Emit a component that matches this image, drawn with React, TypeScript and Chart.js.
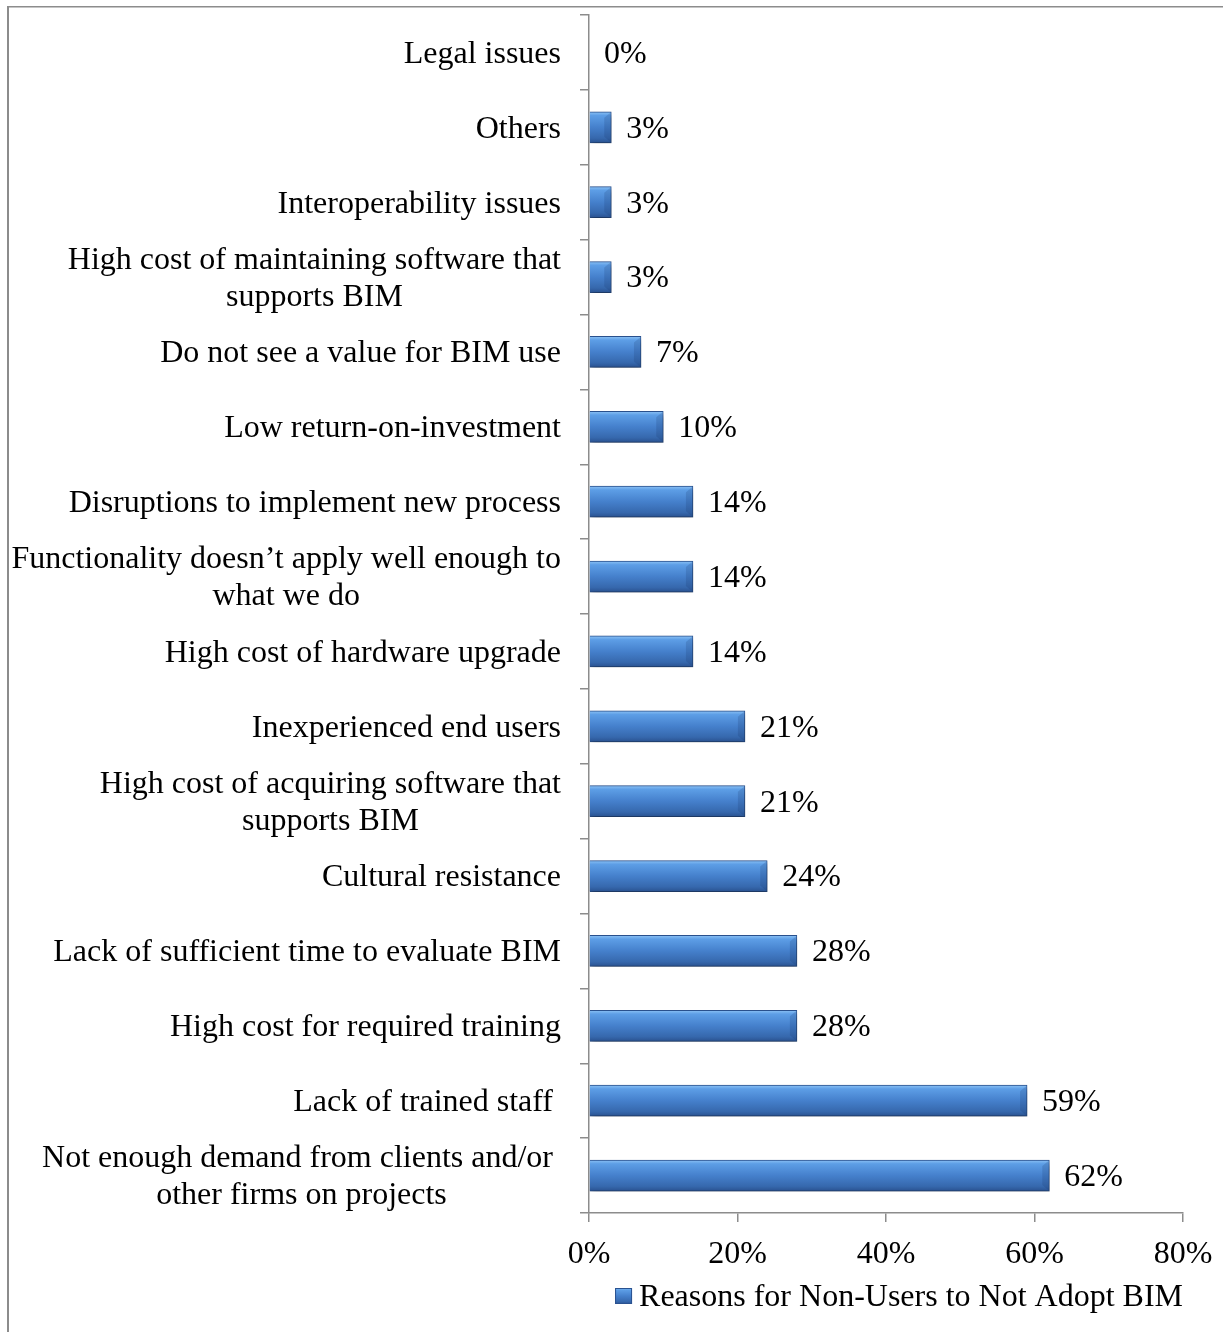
import { useEffect, useRef } from 'react';
import { Chart, registerables } from 'chart.js';

Chart.register(...registerables);

// ---- Data ----
const categories: string[][] = [
  ['Legal issues'],
  ['Others'],
  ['Interoperability issues'],
  ['High cost of maintaining software that', 'supports BIM'],
  ['Do not see a value for BIM use'],
  ['Low return-on-investment'],
  ['Disruptions to implement new process'],
  ['Functionality doesn\u2019t apply well enough to', 'what we do'],
  ['High cost of hardware upgrade'],
  ['Inexperienced end users'],
  ['High cost of acquiring software that', 'supports BIM'],
  ['Cultural resistance'],
  ['Lack of sufficient time to evaluate BIM'],
  ['High cost for required training'],
  ['Lack of trained staff '],
  ['Not enough demand from clients and/or ', 'other firms on projects'],
];
const values: number[] = [0, 3, 3, 3, 7, 10, 14, 14, 14, 21, 21, 24, 28, 28, 59, 62];
const xTickValues: number[] = [0, 20, 40, 60, 80];
const seriesName = 'Reasons for Non-Users to Not Adopt BIM';

// ---- Styles ----
const FONT = '"Liberation Serif", "Times New Roman", serif';
const FONT_SIZE = 32;
const BAR_THICK = 31;
const AXIS_COLOR = '#8c8c8c';

function barGradient(c: CanvasRenderingContext2D, y0: number, y1: number) {
  const g = c.createLinearGradient(0, y0, 0, y1);
  g.addColorStop(0, '#8cc2f5');
  g.addColorStop(0.12, '#5d9ee6');
  g.addColorStop(0.5, '#4580cc');
  g.addColorStop(0.85, '#3668ad');
  g.addColorStop(1, '#2a5290');
  return g;
}

const borderPlugin = {
  id: 'pageBorder',
  beforeDraw(chart: any) {
    const c = chart.ctx as CanvasRenderingContext2D;
    c.save();
    c.strokeStyle = AXIS_COLOR;
    c.lineWidth = 1.5;
    c.beginPath();
    c.moveTo(7, 6.75);
    c.lineTo(chart.width, 6.75);
    c.stroke();
    c.lineWidth = 2;
    c.beginPath();
    c.moveTo(8, 6);
    c.lineTo(8, chart.height);
    c.stroke();
    c.restore();
  },
};

const shadowPlugin = {
  id: 'barShadow',
  beforeDatasetsDraw(chart: any) {
    const c = chart.ctx as CanvasRenderingContext2D;
    const meta = chart.getDatasetMeta(0);
    meta.data.forEach((el: any) => {
      const h = el.height || BAR_THICK;
      if (isFinite(el.y)) {
        el.options = Object.assign({}, el.options, {
          backgroundColor: barGradient(c, el.y - h / 2, el.y + h / 2),
        });
      }
    });
    c.save();
    c.shadowColor = 'rgba(0,0,0,0.35)';
    c.shadowBlur = 6;
    c.shadowOffsetX = 2;
    c.shadowOffsetY = 4;
  },
  afterDatasetsDraw(chart: any) {
    const c = chart.ctx as CanvasRenderingContext2D;
    c.restore();
    // subtle bevel at bar ends
    const meta = chart.getDatasetMeta(0);
    c.save();
    meta.data.forEach((el: any) => {
      const h = el.height || BAR_THICK;
      const w = el.x - el.base;
      if (!isFinite(el.y) || w < 8) return;
      const x1 = el.x;
      const y0 = el.y - h / 2;
      const y1 = el.y + h / 2;
      c.fillStyle = 'rgba(20,50,100,0.18)';
      c.beginPath();
      c.moveTo(x1 - 1, y0 + 1);
      c.lineTo(x1 - 1, y1 - 1);
      c.lineTo(x1 - 7, y1 - 6);
      c.lineTo(x1 - 7, y0 + 6);
      c.closePath();
      c.fill();
    });
    c.restore();
  },
};

const labelsPlugin = {
  id: 'customLabels',
  afterDraw(chart: any) {
    const c = chart.ctx as CanvasRenderingContext2D;
    const ys = chart.scales.y;
    const xs = chart.scales.x;
    c.save();
    c.font = `${FONT_SIZE}px ${FONT}`;
    c.fillStyle = '#000';
    c.textBaseline = 'middle';
    const dy = 2;
    // category labels: block right-aligned, lines centered within block
    const right = ys.right - 28;
    c.textAlign = 'center';
    categories.forEach((lines, i) => {
      const yc = ys.getPixelForValue(i) + dy;
      const w = Math.max(...lines.map((l) => c.measureText(l).width));
      const cx = right - w / 2;
      const lh = 37;
      lines.forEach((l, j) => {
        c.fillText(l, cx, yc + (j - (lines.length - 1) / 2) * lh);
      });
    });
    // value labels
    c.textAlign = 'left';
    values.forEach((v, i) => {
      const x = xs.getPixelForValue(v) + 15;
      const y = ys.getPixelForValue(i) + dy;
      c.fillText(`${v}%`, x, y);
    });
    // legend
    const tw = c.measureText(seriesName).width;
    const tx = chart.chartArea.right - tw;
    const ly = 1298;
    c.fillText(seriesName, tx, ly);
    const bx = tx - 24;
    const by = ly - 10;
    c.fillStyle = barGradient(c, by, by + 16);
    c.fillRect(bx, by, 17, 16);
    c.strokeStyle = '#2a5290';
    c.lineWidth = 1;
    c.strokeRect(bx + 0.5, by + 0.5, 16, 15);
    c.restore();
  },
};

export default function App() {
  const ref = useRef<HTMLCanvasElement | null>(null);
  useEffect(() => {
    if (!ref.current) return;
    document.documentElement.style.overflow = 'hidden';
    const chart = new Chart(ref.current, {
      type: 'bar',
      data: {
        labels: categories.map((l) => l.join(' ')),
        datasets: [
          {
            label: seriesName,
            data: values,
            barThickness: BAR_THICK,
            borderWidth: 1,
            borderColor: '#2a5290',
            backgroundColor: '#4580cc',
          },
        ],
      },
      options: {
        indexAxis: 'y',
        animation: false,
        responsive: true,
        maintainAspectRatio: false,
        layout: { padding: { left: 0, top: 15, right: 40, bottom: 59 } },
        plugins: {
          legend: { display: false },
          tooltip: { enabled: false },
        },
        scales: {
          y: {
            type: 'category',
            offset: true,
            grid: {
              offset: true,
              drawOnChartArea: false,
              drawTicks: true,
              tickLength: 9,
              color: AXIS_COLOR,
              lineWidth: 1.5,
            },
            border: { display: true, color: AXIS_COLOR, width: 1.5 },
            ticks: { display: false },
            afterFit: (scale: any) => {
              scale.width = 589;
              scale.paddingTop = 0;
              scale.paddingBottom = 0;
            },
          },
          x: {
            type: 'linear',
            min: 0,
            max: 80,
            afterBuildTicks: (scale: any) => {
              scale.ticks = xTickValues.map((v) => ({ value: v }));
            },
            grid: {
              drawOnChartArea: false,
              drawTicks: true,
              tickLength: 9,
              color: AXIS_COLOR,
              lineWidth: 1.5,
            },
            border: { display: true, color: AXIS_COLOR, width: 1.5 },
            ticks: {
              color: '#000',
              padding: 13,
              font: { family: FONT, size: FONT_SIZE },
              callback: (v: any) => `${v}%`,
            },
            afterFit: (scale: any) => {
              scale.height = 60;
              scale.paddingLeft = 0;
              scale.paddingRight = 0;
            },
          },
        },
      },
      plugins: [borderPlugin, shadowPlugin, labelsPlugin],
    });
    return () => chart.destroy();
  }, []);
  return (
    <div style={{ position: 'fixed', left: 0, top: 0, width: 1223, height: 1332, background: '#fff' }}>
      <canvas ref={ref} />
    </div>
  );
}
